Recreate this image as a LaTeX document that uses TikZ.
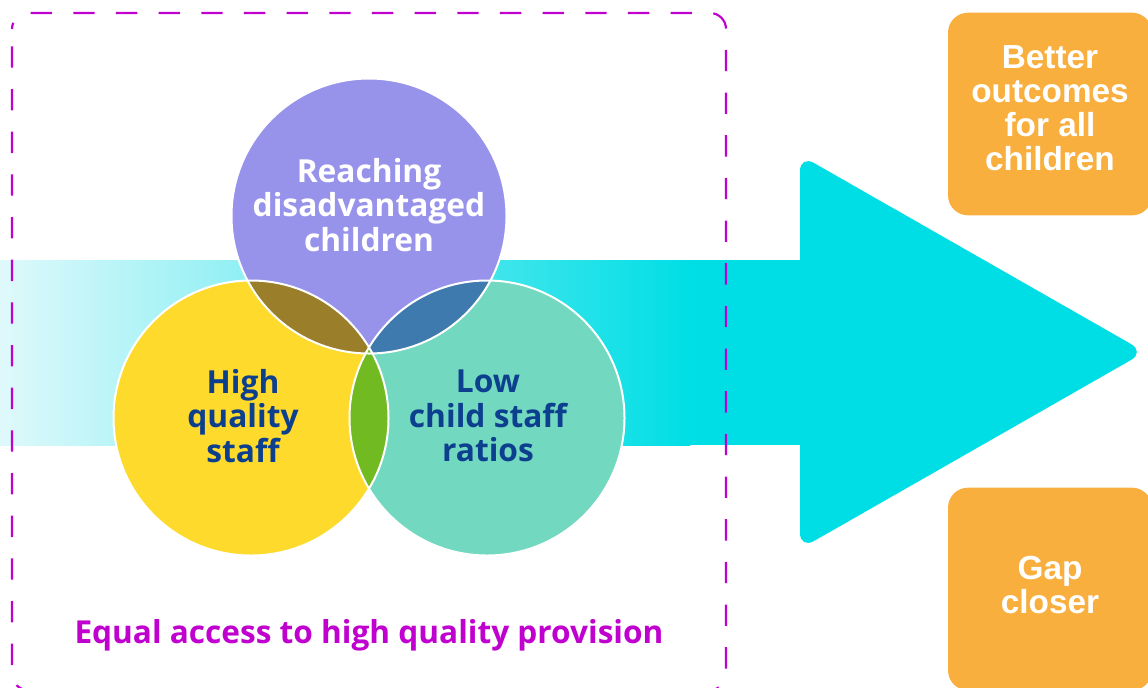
\documentclass[tikz,border=0pt]{standalone}
\usepackage{fontspec}
\setmainfont{Open Sans}
\newfontfamily\boxfont{Liberation Sans}
\usetikzlibrary{positioning}

\definecolor{reachpurple}{HTML}{9893EA}
\definecolor{staffyellow}{HTML}{FDDA2B}
\definecolor{ratioteal}{HTML}{73D8C0}
\definecolor{mixolive}{HTML}{9A7E2A}
\definecolor{mixblue}{HTML}{3F7AAE}
\definecolor{mixgreen}{HTML}{72BA22}
\definecolor{venvnavy}{HTML}{0C3F8E}
\definecolor{bandlight}{HTML}{DFF9FB}
\definecolor{arrowcyan}{HTML}{00DEE5}
\definecolor{goalorange}{HTML}{F9AF3E}
\definecolor{framemagenta}{HTML}{C000CF}

\tikzset{
    disc/.style={circle, inner sep=0pt, minimum size=206.25pt},
    rim/.style={draw=white, line width=1.5pt},
    ventext/.style={align=center, font=\bfseries\fontsize{23.8}{26}\selectfont},
    goal/.style={rounded corners=15pt, fill=goalorange, inner sep=0pt, minimum width=153pt, minimum height=152pt},
    goaltext/.style={align=center, text=white, font=\boxfont\bfseries\fontsize{25}{25.5}\selectfont}
}

\begin{document}
\begin{tikzpicture}[x=0.75pt, y=-0.75pt]
            \useasboundingbox (0,0) rectangle (1148,687);
            \fill[left color=bandlight, right color=arrowcyan] (0,260) rectangle (690,445);
            \fill[arrowcyan] (689,260) rectangle (801,445);
            \fill[arrowcyan, rounded corners=12pt] (800,155) -- (1145,352) -- (800,549) -- cycle;
            \node[disc, fill=reachpurple] (reach) at (369,216) {};
            \node[disc, fill=staffyellow] (staff) at (251,418) {};
            \node[disc, fill=ratioteal] (ratio) at (487,418) {};
            \begin{scope}
                \clip (reach.center) circle (137.5);
                \fill[mixolive] (staff.center) circle (137.5);
                \fill[mixblue] (ratio.center) circle (137.5);
            \end{scope}
            \begin{scope}
                \clip (staff.center) circle (137.5);
                \fill[mixgreen] (ratio.center) circle (137.5);
            \end{scope}
            \draw[rim] (reach.center) circle (137.5);
            \draw[rim] (staff.center) circle (137.5);
            \draw[rim] (ratio.center) circle (137.5);
            \node[ventext, text=white] (reachlbl) at (369,205) {Reaching\\disadvantaged\\children};
            \node[ventext, text=venvnavy] (stafflbl) at (243,416) {High\\quality\\staff};
            \node[ventext, text=venvnavy] (ratiolbl) at (488,416) {Low\\child staff\\ratios};
            \node[font=\bfseries\fontsize{23.7}{26}\selectfont, text=framemagenta] (access) at (369,635) {Equal access to high quality provision};
            \draw[framemagenta, line width=1.6pt, dash pattern=on 16pt off 16pt, dash phase=-13pt, rounded corners=12pt] (12,13) rectangle (726,690);
            \node[goal] (better) at (1050,114) {};
            \node[goal] (gap) at (1050,589) {};
            \node[goaltext] (betterlbl) at (1050,108) {Better\\outcomes\\for all\\children};
            \node[goaltext] (gaplbl) at (1050,585) {Gap\\closer};
        \end{tikzpicture}
\end{document}
